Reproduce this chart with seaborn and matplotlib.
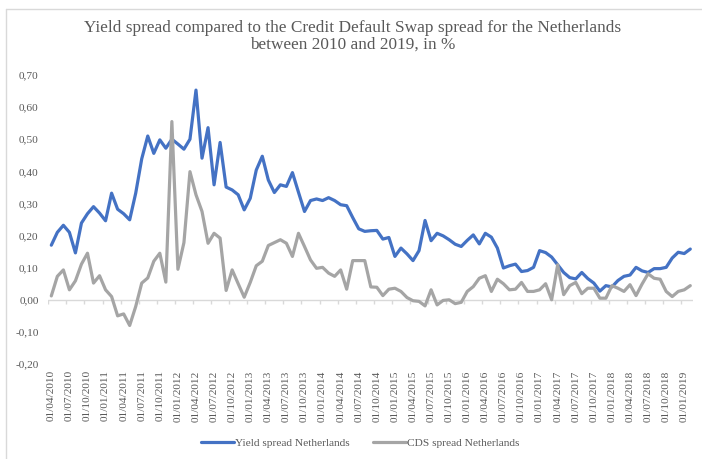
import numpy as np
import pandas as pd
import matplotlib
matplotlib.use("Agg")
import matplotlib.pyplot as plt
from matplotlib.lines import Line2D
import seaborn as sns

# Monthly observations, first day of each month from April 2010 to February 2019
months = pd.date_range("2010-04-01", "2019-02-01", freq="MS")
month_labels = [d.strftime("%d/%m/%Y") for d in months]

yield_spread = [
    0.170, 0.210, 0.232, 0.210, 0.146, 0.239, 0.268, 0.290, 0.270, 0.246,
    0.332, 0.282, 0.268, 0.249, 0.332, 0.439, 0.510, 0.456, 0.498, 0.472,
    0.500, 0.485, 0.469, 0.500, 0.653, 0.441, 0.536, 0.358, 0.490, 0.351,
    0.342, 0.327, 0.280, 0.316, 0.404, 0.447, 0.373, 0.334, 0.358, 0.353,
    0.396, 0.335, 0.275, 0.309, 0.314, 0.309, 0.318, 0.309, 0.296, 0.293,
    0.256, 0.221, 0.213, 0.215, 0.216, 0.189, 0.194, 0.135, 0.161, 0.143,
    0.122, 0.153, 0.247, 0.184, 0.207, 0.199, 0.187, 0.173, 0.166, 0.185,
    0.202, 0.174, 0.207, 0.195, 0.161, 0.099, 0.106, 0.111, 0.088, 0.091,
    0.101, 0.153, 0.147, 0.133, 0.109, 0.085, 0.069, 0.065, 0.085, 0.066,
    0.052, 0.027, 0.044, 0.040, 0.060, 0.073, 0.077, 0.101, 0.090, 0.085,
    0.097, 0.097, 0.101, 0.130, 0.148, 0.144, 0.158,
]

cds_spread = [
    0.012, 0.073, 0.093, 0.031, 0.059, 0.111, 0.145, 0.052, 0.075, 0.031,
    0.010, -0.050, -0.044, -0.080, -0.021, 0.052, 0.068, 0.120, 0.145, 0.055,
    0.555, 0.095, 0.178, 0.399, 0.327, 0.275, 0.176, 0.207, 0.192, 0.029,
    0.093, 0.050, 0.008, 0.054, 0.106, 0.120, 0.169, 0.178, 0.187, 0.176,
    0.135, 0.207, 0.166, 0.124, 0.098, 0.101, 0.083, 0.073, 0.093, 0.033,
    0.122, 0.122, 0.122, 0.040, 0.039, 0.013, 0.033, 0.036, 0.026, 0.007,
    -0.003, -0.005, -0.019, 0.031, -0.016, -0.002, 0.000, -0.012, -0.008, 0.026,
    0.041, 0.067, 0.075, 0.026, 0.064, 0.050, 0.031, 0.033, 0.054, 0.026,
    0.026, 0.031, 0.050, 0.000, 0.109, 0.016, 0.044, 0.054, 0.019, 0.036,
    0.036, 0.005, 0.005, 0.044, 0.036, 0.026, 0.047, 0.013, 0.049, 0.081,
    0.067, 0.064, 0.026, 0.010, 0.026, 0.031, 0.044,
]

series_names = ["Yield spread Netherlands", "CDS spread Netherlands"]
series_colors = ["#4472C4", "#A5A5A5"]
y_ticks = [-0.2, -0.1, 0.0, 0.1, 0.2, 0.3, 0.4, 0.5, 0.6, 0.7]

title = ("Yield spread compared to the Credit Default Swap spread for the Netherlands\n"
         "between 2010 and 2019, in %")

sns.set_style("white")
plt.rcParams["font.family"] = ["Liberation Serif", "DejaVu Serif"]
text_color = "#595959"
axis_color = "#D9D9D9"

df = pd.DataFrame({
    "pos": np.arange(len(months)),
    series_names[0]: yield_spread,
    series_names[1]: cds_spread,
})
long_df = df.melt(id_vars="pos", var_name="series", value_name="spread")

W, H = 702, 459
fig = plt.figure(figsize=(W / 100, H / 100), dpi=100)

# Chart-area frame
fig.add_artist(Line2D([6 / W, 1.0], [1 - 9 / H, 1 - 9 / H], color=axis_color, lw=1.0))
fig.add_artist(Line2D([6 / W, 6 / W], [0.0, 1 - 9 / H], color=axis_color, lw=1.0))

x_left, x_right = 48.3, 693.3
y_top, y_bottom = 75.0, 364.0
ax = fig.add_axes([x_left / W, 1 - y_bottom / H, (x_right - x_left) / W, (y_bottom - y_top) / H])

sns.lineplot(data=long_df, x="pos", y="spread", hue="series", hue_order=series_names,
             palette=series_colors, linewidth=2.3, ax=ax, legend=False)

n = len(months)
ax.set_xlim(-0.5, n - 0.5)
ax.set_ylim(-0.2, 0.7)

# Zero line acts as the category axis, with tick marks between categories
ax.axhline(0, color=axis_color, lw=1.0, zorder=0)
tick_marks = np.arange(-0.5, n, 3)
ax.vlines(tick_marks, -0.013, 0, color=axis_color, lw=1.0, zorder=0)

label_pos = np.arange(0, n, 3)
ax.set_xticks(label_pos)
ax.set_xticklabels([month_labels[i] for i in label_pos], rotation=90)
ax.set_yticks(y_ticks)
ax.set_yticklabels([f"{v:.2f}".replace(".", ",") for v in y_ticks])
ax.tick_params(axis="x", length=0, pad=4.5, labelsize=8.2, labelcolor=text_color)
ax.tick_params(axis="y", length=0, pad=7, labelsize=8.2, labelcolor=text_color)
ax.set_xlabel("")
ax.set_ylabel("")
for s in ax.spines.values():
    s.set_visible(False)
ax.grid(False)

fig.text(0.502, 1 - 36.5 / H, title, ha="center", va="center", fontsize=12.4,
         color=text_color, linespacing=1.05)

handles = [Line2D([0], [0], color=c, lw=2.3) for c in series_colors]
fig.legend(handles, series_names, loc="center", bbox_to_anchor=(0.513, 1 - 443 / H),
           ncol=2, frameon=False, fontsize=8.2, labelcolor=text_color,
           handlelength=2.9, handletextpad=0.15, columnspacing=2.0)

fig.savefig("out.png", dpi=100, facecolor="white")
